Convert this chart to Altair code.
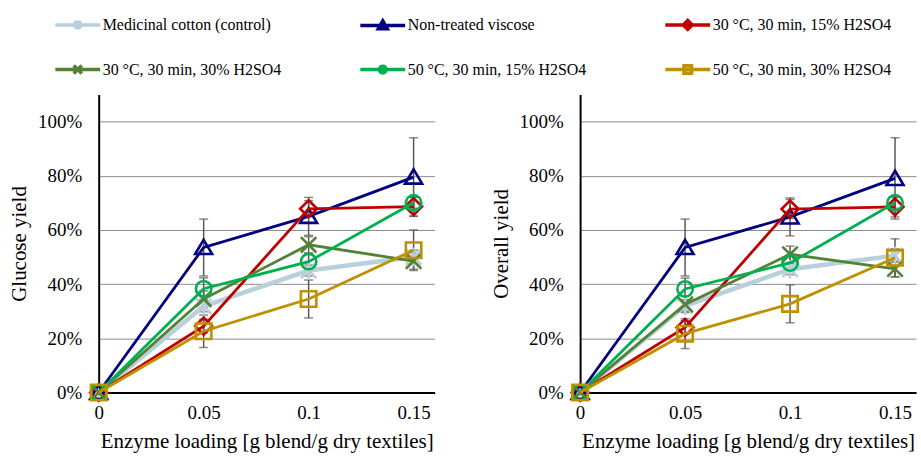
import altair as alt
import pandas as pd

# ---------------- data ----------------
x_loading = [0, 0.05, 0.1, 0.15]

series = [
    "Medicinal cotton (control)",
    "Non-treated viscose",
    "30 °C, 30 min, 15% H2SO4",
    "30 °C, 30 min, 30% H2SO4",
    "50 °C, 30 min, 15% H2SO4",
    "50 °C, 30 min, 30% H2SO4",
]

glucose_yield = [
    [0, 0.318, 0.450, 0.500],
    [0, 0.535, 0.650, 0.795],
    [0, 0.245, 0.678, 0.686],
    [0, 0.345, 0.545, 0.485],
    [0, 0.383, 0.483, 0.700],
    [0, 0.226, 0.345, 0.525],
]
glucose_err = [
    [0, 0.020, 0.020, 0.025],
    [0, 0.105, 0.070, 0.145],
    [0, 0.025, 0.030, 0.035],
    [0, 0.030, 0.030, 0.030],
    [0, 0.040, 0.030, 0.020],
    [0, 0.060, 0.070, 0.075],
]

overall_yield = [
    [0, 0.320, 0.455, 0.505],
    [0, 0.535, 0.648, 0.790],
    [0, 0.240, 0.677, 0.685],
    [0, 0.325, 0.510, 0.456],
    [0, 0.382, 0.478, 0.700],
    [0, 0.217, 0.327, 0.497],
]
overall_err = [
    [0, 0.020, 0.020, 0.025],
    [0, 0.105, 0.070, 0.150],
    [0, 0.025, 0.035, 0.037],
    [0, 0.030, 0.030, 0.030],
    [0, 0.040, 0.030, 0.020],
    [0, 0.055, 0.070, 0.070],
]

x_ticks = [0, 0.05, 0.1, 0.15]
y_ticks = [0, 0.2, 0.4, 0.6, 0.8, 1.0]

# ---------------- styles ----------------
colors = ["#B7D0DB", "#000080", "#C00000", "#548235", "#00B050", "#BF9000"]
line_widths = [4.5, 2.8, 2.8, 2.8, 2.8, 2.8]
marker_paths = [
    "M-1,-1L1,1M-1,1L1,-1M0,-1.2V1.2",
    "M0,-1L1.1,0.85H-1.1Z",
    "M0,-1.1L1.1,0L0,1.1L-1.1,0Z",
    "M-1,-1L1,1M-1,1L1,-1",
    "M-1,0A1,1,0,1,1,1,0A1,1,0,1,1,-1,0Z",
    "M-1,-1H1V1H-1Z",
]
# legend glyphs: a line from -2 to 2 with a small marker in the middle
legend_paths = [
    "M-2,0H2M-0.3,-0.3L0.3,0.3M-0.3,0.3L0.3,-0.3M0,-0.4V0.4",
    "M-2,0H2M0,-0.4L0.4,0.3H-0.4Z",
    "M-2,0H2M0,-0.4L0.4,0L0,0.4L-0.4,0Z",
    "M-2,0H2M-0.36,-0.36L0.36,0.36M-0.36,0.36L0.36,-0.36",
    "M-2,0H2M-0.3,0A0.3,0.3,0,1,1,0.3,0A0.3,0.3,0,1,1,-0.3,0Z",
    "M-2,0H2M-0.34,-0.34H0.34V0.34H-0.34Z",
]

FONT = "Liberation Serif, Times New Roman, serif"
PW, PH = 337, 299


def x_enc():
    return alt.X(
        "x:Q",
        scale=alt.Scale(domain=[0, 0.16], nice=False, zero=False),
        axis=alt.Axis(
            values=x_ticks, format=".2~f", title="Enzyme loading [g blend/g dry textiles]",
            grid=False, ticks=False, domainColor="black", domainWidth=2,
            labelFont=FONT, labelFontSize=19, labelColor="black", labelPadding=11,
            labelFlush=False, titleFont=FONT, titleFontSize=21, titleFontWeight="normal",
            titleColor="black", titlePadding=8,
        ),
    )


def y_enc(field, title):
    return alt.Y(
        field + ":Q",
        scale=alt.Scale(domain=[0, 1.1], nice=False),
        axis=alt.Axis(
            values=y_ticks, format=".0%", title=title, grid=True, gridColor="#8C8C8C",
            gridWidth=1, ticks=False, domainColor="black", domainWidth=2,
            labelFont=FONT, labelFontSize=19, labelColor="black", labelPadding=17,
            labelFlush=False, titleFont=FONT, titleFontSize=21, titleFontWeight="normal",
            titleColor="black", titlePadding=8,
        ),
    )


def panel(values, errors, ytitle, with_legend):
    rows = []
    for s, vals, errs in zip(series, values, errors):
        for xv, v, e in zip(x_loading, vals, errs):
            rows.append({"series": s, "x": xv, "y": v, "lo": v - e, "hi": v + e, "err": e})
    df = pd.DataFrame(rows)
    base = alt.Chart(df)
    X = x_enc()
    layers = []
    eb = base.transform_filter("datum.err > 0")
    layers.append(eb.mark_rule(color="#595959", strokeWidth=1.5).encode(
        x=X, y=y_enc("lo", ytitle), y2="hi:Q"))
    layers.append(eb.mark_tick(color="#595959", thickness=1.5, size=9, orient="horizontal").encode(
        x=X, y=y_enc("lo", ytitle)))
    layers.append(eb.mark_tick(color="#595959", thickness=1.5, size=9, orient="horizontal").encode(
        x=X, y=y_enc("hi", ytitle)))
    for s, c, w, p in zip(series, colors, line_widths, marker_paths):
        sub = base.transform_filter(alt.datum.series == s)
        layers.append(sub.mark_line(color=c, strokeWidth=w).encode(x=X, y=y_enc("y", ytitle)))
        layers.append(sub.mark_point(shape=p, size=240, color=c, strokeWidth=2.6,
                                     filled=False, opacity=1).encode(x=X, y=y_enc("y", ytitle)))
    if with_legend:
        leg = alt.Legend(
            title=None, orient="none", legendX=-34, legendY=-83, columns=3,
            direction="horizontal",
            labelFont=FONT, labelFontSize=16, labelColor="black", labelLimit=400,
            symbolSize=506, symbolStrokeWidth=3.5, columnPadding=71, rowPadding=20,
            gridAlign="all", labelOffset=12, symbolOpacity=1,
        )
        layers.append(
            base.transform_filter("false").mark_point(filled=False, opacity=1).encode(
                x=X, y=y_enc("y", ytitle),
                color=alt.Color("series:N", scale=alt.Scale(domain=series, range=colors), legend=leg),
                shape=alt.Shape("series:N", scale=alt.Scale(domain=series, range=legend_paths), legend=leg),
            )
        )
    return alt.layer(*layers).properties(width=PW, height=PH)


left = panel(glucose_yield, glucose_err, "Glucose yield", True)
right = panel(overall_yield, overall_err, "Overall yield", False)

chart = (
    alt.hconcat(left, right, spacing=55)
    .properties(padding={"left": 8, "top": 11, "right": 5, "bottom": 5}, background="white")
    .configure_view(stroke=None)
)

chart.save("out.html", embed_options={"renderer": "svg", "actions": False})
